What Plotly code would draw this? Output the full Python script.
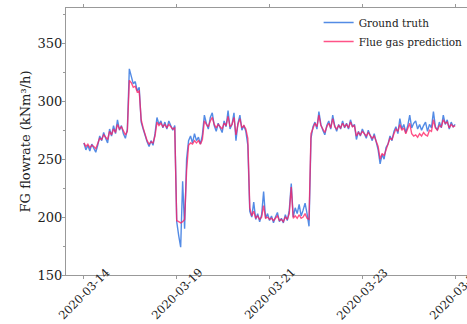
import plotly.graph_objects as go

# Ground truth flue-gas flowrate (kNm3/h)
ground_truth = [
    264, 258, 262, 257, 263, 259, 256, 262, 270, 266, 273, 268, 264, 276, 270, 279, 272, 284, 275, 279, 272, 268, 276,
    328, 321, 315, 317, 309, 312, 282, 276, 270, 265, 261, 266, 262, 272, 286, 280, 283, 277, 282, 276, 283, 278, 275, 279,
    196, 184, 174, 231, 190, 250, 266,
    270, 264, 272, 266, 269, 263, 271,
    288, 281, 276, 286, 290, 279, 274, 281, 277, 273, 283, 278, 292, 276, 280, 290, 266, 281, 288, 275, 279, 274,
    262, 205,
    200, 213, 198, 203, 196, 202, 222, 199, 203, 197, 201, 195, 200, 204, 196, 199, 195, 202, 197, 206, 229, 200, 208, 203, 211, 201, 206, 212, 203, 192,
    268, 278, 282, 276, 291, 280, 275, 271, 279, 283, 276, 288, 279, 274, 280, 276, 283, 277, 281, 276, 284, 278, 280,
    267, 274, 270, 276, 272, 268, 275, 270, 266, 272, 264, 258, 246, 254, 250, 260, 263, 270, 266, 274,
    278, 272, 285, 276, 280, 273, 279, 288, 277, 281, 283, 276, 280, 275, 279, 282, 274, 280, 277, 291, 278, 275, 282, 277, 288, 280, 284, 276, 282, 278, 280,
]

# Model prediction
prediction = [
    264, 261, 263, 260, 262, 261, 259, 263, 268, 267, 271, 269, 267, 274, 271, 276, 273, 280, 276, 278, 274, 271, 274,
    318, 316, 312, 313, 308, 309, 284, 277, 271, 266, 263, 265, 264, 270, 282, 279, 281, 278, 280, 277, 280, 278, 276, 277,
    197, 196, 195, 196, 198, 240, 262,
    264, 263, 266, 264, 266, 263, 267,
    283, 280, 278, 283, 286, 280, 277, 280, 278, 276, 281, 279, 287, 278, 280, 286, 271, 280, 285, 277, 279, 276,
    268, 208,
    201, 205, 199, 201, 198, 200, 210, 199, 200, 198, 199, 197, 199, 201, 197, 198, 196, 200, 198, 203, 226, 199, 201, 199, 202, 199, 200, 203, 199, 198,
    272, 277, 281, 278, 288, 279, 276, 273, 278, 281, 277, 285, 278, 276, 279, 277, 281, 278, 280, 277, 282, 278, 279,
    270, 273, 271, 274, 272, 270, 273, 270, 268, 270, 265, 261, 250, 255, 253, 259, 263, 268, 267, 272,
    276, 274, 280, 275, 277, 272, 276, 281, 272, 270, 271, 269, 272, 270, 273, 271, 270, 275, 274, 284, 277, 275, 279, 278, 284, 281, 282, 277, 280, 278, 279,
]

tick_positions = [0, 47, 94, 141, 188]
tick_labels = ["2020-03-14", "2020-03-19", "2020-03-21", "2020-03-23", "2020-03-25"]
y_ticks = [150, 200, 250, 300, 350]

x_gt = list(range(len(ground_truth)))
x_pred = list(range(len(prediction)))

FONT = "DejaVu Serif"

fig = go.Figure()
fig.add_trace(go.Scatter(x=x_gt, y=ground_truth, mode="lines", name="Ground truth",
                         line=dict(color="rgba(25,100,220,0.75)", width=1.4)))
fig.add_trace(go.Scatter(x=x_pred, y=prediction, mode="lines", name="Flue gas prediction",
                         line=dict(color="rgba(255,25,95,0.75)", width=1.4)))

for pos, lab in zip(tick_positions, tick_labels):
    fig.add_annotation(x=pos, y=-0.071, xref="x", yref="paper", text=lab, showarrow=False,
                       textangle=-45, xanchor="center", yanchor="middle",
                       font=dict(family=FONT, size=11.5, color="#222"))

fig.add_annotation(x=-0.1, y=0.5, xref="paper", yref="paper", text="FG flowrate (kNm³/h)",
                   showarrow=False, textangle=-90, xanchor="center", yanchor="middle",
                   font=dict(family=FONT, size=13, color="#222"))

fig.update_layout(
    width=467, height=324,
    margin=dict(l=66, r=0, t=8, b=49, autoexpand=False),
    paper_bgcolor="white", plot_bgcolor="white",
    font=dict(family=FONT, color="#222"),
    showlegend=True,
    legend=dict(x=0.63, y=1.0, xanchor="left", yanchor="top", bgcolor="rgba(0,0,0,0)",
                font=dict(family=FONT, size=10.5, color="#222"), tracegroupgap=0, itemwidth=30),
)
fig.update_xaxes(range=[-9.07, 194], tickvals=tick_positions, showticklabels=False, automargin=False,
                 ticks="outside", ticklen=3, tickcolor="#999", showgrid=False, zeroline=False,
                 showline=True, linecolor="#999", linewidth=1, mirror="ticks")
fig.update_yaxes(range=[150, 380.5], tickvals=y_ticks, ticks="outside", ticklen=3, tickcolor="#999",
                 automargin=False, ticklabelstandoff=-3,
                 tickfont=dict(family=FONT, size=13, color="#222"),
                 minor=dict(dtick=25, ticks="outside", ticklen=2, tickcolor="#999"),
                 showgrid=False, zeroline=False, showline=True, linecolor="#999", linewidth=1, mirror="ticks")

fig.write_html("out.html", config={"displayModeBar": False},
               post_script="document.body.style.margin='0';document.body.style.overflow='hidden';")
